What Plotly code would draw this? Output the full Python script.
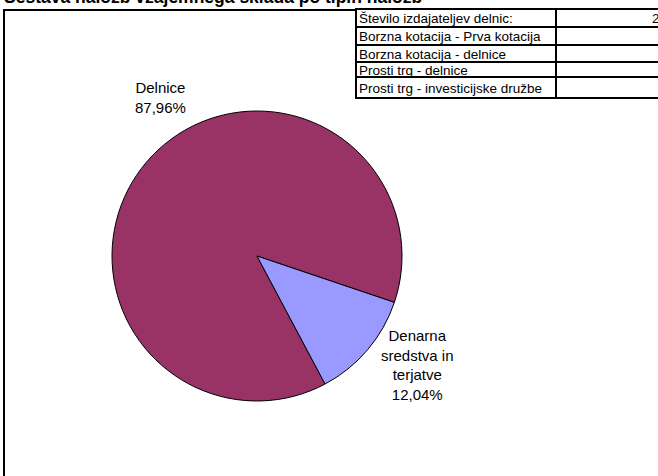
import plotly.graph_objects as go

# Data
categories = ["Delnice", "Denarna<br>sredstva in<br>terjatve"]
shares = [87.96, 12.04]
slice_colors = ["#993366", "#9999FF"]

title_text = "Sestava naložb vzajemnega sklada po tipih naložb"

table_labels = [
    "Število izdajateljev delnic:",
    "Borzna kotacija - Prva kotacija",
    "Borzna kotacija - delnice",
    "Prosti trg - delnice",
    "Prosti trg - investicijske družbe",
]
table_values = ["24", "1", "6", "3", "3"]

W, H = 658, 476
FONT = "Liberation Sans, Arial, sans-serif"

def px(x):
    return x / W

def py(y):
    return 1 - y / H

# Pie geometry (pixels)
cx, cy, r = 257, 256, 145

fig = go.Figure()
fig.add_trace(go.Pie(
    labels=[c.replace("<br>", " ") for c in categories],
    values=shares,
    marker=dict(colors=slice_colors, line=dict(color="black", width=1)),
    sort=False,
    direction="clockwise",
    rotation=152,
    textinfo="none",
    hoverinfo="label+percent",
    showlegend=False,
    domain=dict(x=[px(cx - r), px(cx + r)], y=[py(cy + r), py(cy - r)]),
))

shapes = []
annotations = []

# Outer chart border (extends beyond the visible area)
shapes.append(dict(type="rect", xref="paper", yref="paper",
                   x0=px(4), x1=px(W + 20), y0=py(H + 20), y1=py(10),
                   line=dict(color="black", width=2), fillcolor="rgba(0,0,0,0)",
                   layer="above"))

# Title (partially cut at the top)
annotations.append(dict(text="<b>" + title_text + "</b>", xref="paper", yref="paper",
                        x=px(2), y=py(9), xanchor="left", yanchor="bottom",
                        showarrow=False, font=dict(family=FONT, size=17.5, color="black")))

# Slice labels
label_pos = [(160, 98), (418, 365)]
for (lx, ly), cat, val in zip(label_pos, categories, shares):
    txt = cat + "<br>" + f"{val:.2f}".replace(".", ",") + "%"
    annotations.append(dict(text=txt, xref="paper", yref="paper",
                            x=px(lx), y=py(ly), xanchor="center", yanchor="middle",
                            showarrow=False, align="center",
                            font=dict(family=FONT, size=15, color="black")))

# Table
row_lines = [9, 27, 45, 62, 77, 98]
tx0, tdiv, tx1 = 356, 556, W + 30
shapes.append(dict(type="rect", xref="paper", yref="paper",
                   x0=px(tx0), x1=px(tx1), y0=py(row_lines[-1]), y1=py(row_lines[0]),
                   line=dict(color="black", width=2), fillcolor="white", layer="above"))
for yl in row_lines[1:-1]:
    shapes.append(dict(type="line", xref="paper", yref="paper",
                       x0=px(tx0), x1=px(tx1), y0=py(yl), y1=py(yl),
                       line=dict(color="black", width=2), layer="above"))
shapes.append(dict(type="line", xref="paper", yref="paper",
                   x0=px(tdiv), x1=px(tdiv), y0=py(row_lines[-1]), y1=py(row_lines[0]),
                   line=dict(color="black", width=2), layer="above"))
for i, (lab, val) in enumerate(zip(table_labels, table_values)):
    ymid = (row_lines[i] + row_lines[i + 1]) / 2 + 1
    annotations.append(dict(text=lab, xref="paper", yref="paper",
                            x=px(tx0 + 1), y=py(ymid), xanchor="left", yanchor="middle",
                            showarrow=False, font=dict(family=FONT, size=13.5, color="black")))
    annotations.append(dict(text=val, xref="paper", yref="paper",
                            x=px(670), y=py(ymid), xanchor="right", yanchor="middle",
                            showarrow=False, font=dict(family=FONT, size=13.5, color="black")))

fig.update_layout(
    width=W, height=H,
    margin=dict(l=0, r=0, t=0, b=0),
    paper_bgcolor="white", plot_bgcolor="white",
    shapes=shapes, annotations=annotations,
    font=dict(family=FONT),
)

fig.write_html("out.html",
               config={"displayModeBar": False},
               post_script="document.body.style.margin='0';document.body.style.overflow='hidden';")
